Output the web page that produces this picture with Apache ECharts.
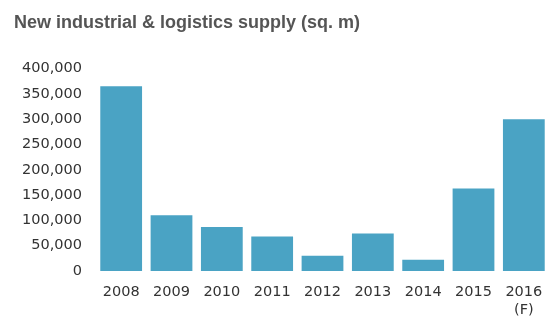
<!DOCTYPE html>
<html>
<head>
<meta charset="utf-8">
<script src="https://cdn.jsdelivr.net/npm/echarts@6/dist/echarts.min.js"></script>
<style>
  html, body { margin: 0; padding: 0; background: #ffffff; }
  #chart { width: 549px; height: 323px; }
</style>
</head>
<body>
<div id="chart"></div>
<script>
// Annual new industrial & logistics floor space (sq. m), 2016 forecast
const years = ['2008', '2009', '2010', '2011', '2012', '2013', '2014', '2015', '2016\n(F)'];
const supply = [365000, 110000, 87000, 68000, 30000, 74000, 22000, 163000, 300000];
const yTicks = [0, 50000, 100000, 150000, 200000, 250000, 300000, 350000, 400000];

const chart = echarts.init(document.getElementById('chart'), null, { renderer: 'canvas' });

chart.setOption({
  animation: false,
  backgroundColor: '#ffffff',
  title: {
    text: 'New industrial & logistics supply (sq. m)',
    left: 9,
    top: 9,
    textStyle: {
      fontFamily: 'Liberation Sans',
      fontSize: 18,
      fontWeight: 'bold',
      color: '#555555'
    }
  },
  grid: { left: 96, right: 0, top: 68.5, bottom: 52 },
  xAxis: {
    type: 'category',
    data: years,
    axisLine: { show: false },
    axisTick: { show: false },
    axisLabel: {
      margin: 12,
      fontFamily: 'DejaVu Sans',
      fontSize: 14.5,
      lineHeight: 18,
      color: '#333333'
    }
  },
  yAxis: {
    type: 'value',
    min: yTicks[0],
    max: yTicks[yTicks.length - 1],
    interval: yTicks[1] - yTicks[0],
    axisLine: { show: false },
    axisTick: { show: false },
    splitLine: { show: false },
    axisLabel: {
      margin: 14,
      fontFamily: 'DejaVu Sans',
      fontSize: 14.5,
      color: '#333333',
      formatter: v => v.toLocaleString('en-US')
    }
  },
  series: [{
    type: 'bar',
    data: supply,
    barCategoryGap: '17%',
    itemStyle: { color: '#4aa3c4' }
  }]
});
</script>
</body>
</html>
